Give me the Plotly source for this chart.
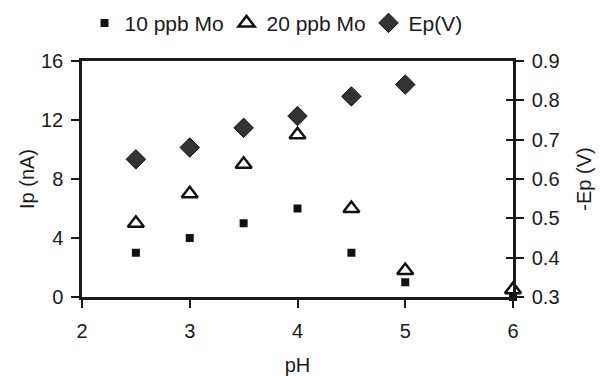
import plotly.graph_objects as go

ph = [2.5, 3, 3.5, 4, 4.5, 5, 6]
ip_10 = [3, 4, 5, 6, 3, 1, 0]
ip_20 = [5, 7, 9, 11, 6, 1.8, 0.5]
ph_ep = [2.5, 3, 3.5, 4, 4.5, 5]
ep = [0.65, 0.68, 0.73, 0.76, 0.81, 0.84]

font = dict(family="Liberation Sans, Arial, sans-serif", size=20, color="#1a1a1a")
legend_font = dict(family="Liberation Sans, Arial, sans-serif", size=21, color="#1a1a1a")

fig = go.Figure()
fig.add_trace(go.Scatter(x=ph, y=ip_10, mode="markers", name="10 ppb Mo",
                         marker=dict(symbol="square", size=8, color="#111"), cliponaxis=False))
fig.add_trace(go.Scatter(x=ph, y=ip_20, mode="markers", name="20 ppb Mo",
                         marker=dict(symbol="triangle-up-open", size=14, color="#111",
                                     line=dict(width=2.5, color="#111")), cliponaxis=False))
fig.add_trace(go.Scatter(x=ph_ep, y=ep, mode="markers", name="Ep(V)", yaxis="y2",
                         marker=dict(symbol="diamond", size=15, color="#333",
                                     line=dict(width=1, color="#111")), cliponaxis=False))

axis_common = dict(showgrid=False, zeroline=False, showline=True, linecolor="#1a1a1a",
                   linewidth=2.5, ticks="outside", tickcolor="#1a1a1a", tickwidth=2,
                   ticklen=8, tickfont=font)

fig.update_layout(
    width=602, height=376,
    paper_bgcolor="white", plot_bgcolor="white",
    margin=dict(l=82, r=89, t=61, b=79, autoexpand=False),
    font=font,
    showlegend=True,
    legend=dict(orientation="h", x=0.5, xanchor="center", y=1.16, yanchor="middle",
                font=legend_font, itemwidth=30, tracegroupgap=0, entrywidth=97,
                bgcolor="rgba(0,0,0,0)"),
    xaxis=dict(range=[2, 6], tickvals=[2, 3, 4, 5, 6], mirror=True, ticklabelstandoff=6,
               title=dict(text="pH", font=font, standoff=20), **axis_common),
    yaxis=dict(range=[0, 16], tickvals=[0, 4, 8, 12, 16], ticklabelstandoff=4,
               title=dict(text="Ip (nA)", font=font, standoff=2), **axis_common),
    yaxis2=dict(range=[0.3, 0.9], tickvals=[0.3, 0.4, 0.5, 0.6, 0.7, 0.8, 0.9],
                tickformat=".1f", overlaying="y", side="right", anchor="x",
                ticklabelstandoff=4,
                title=dict(text="-Ep (V)", font=font, standoff=19), **axis_common),
    yaxis3=dict(range=[0.3, 0.9], tickvals=[0.3, 0.4, 0.5, 0.6, 0.7, 0.8, 0.9],
                overlaying="y", side="right", anchor="x", showticklabels=False,
                showgrid=False, zeroline=False, showline=False,
                ticks="inside", tickcolor="#1a1a1a", tickwidth=2, ticklen=7),
)
fig.add_trace(go.Scatter(x=[None], y=[None], yaxis="y3", showlegend=False, hoverinfo="skip"))

fig.write_html("out.html")
